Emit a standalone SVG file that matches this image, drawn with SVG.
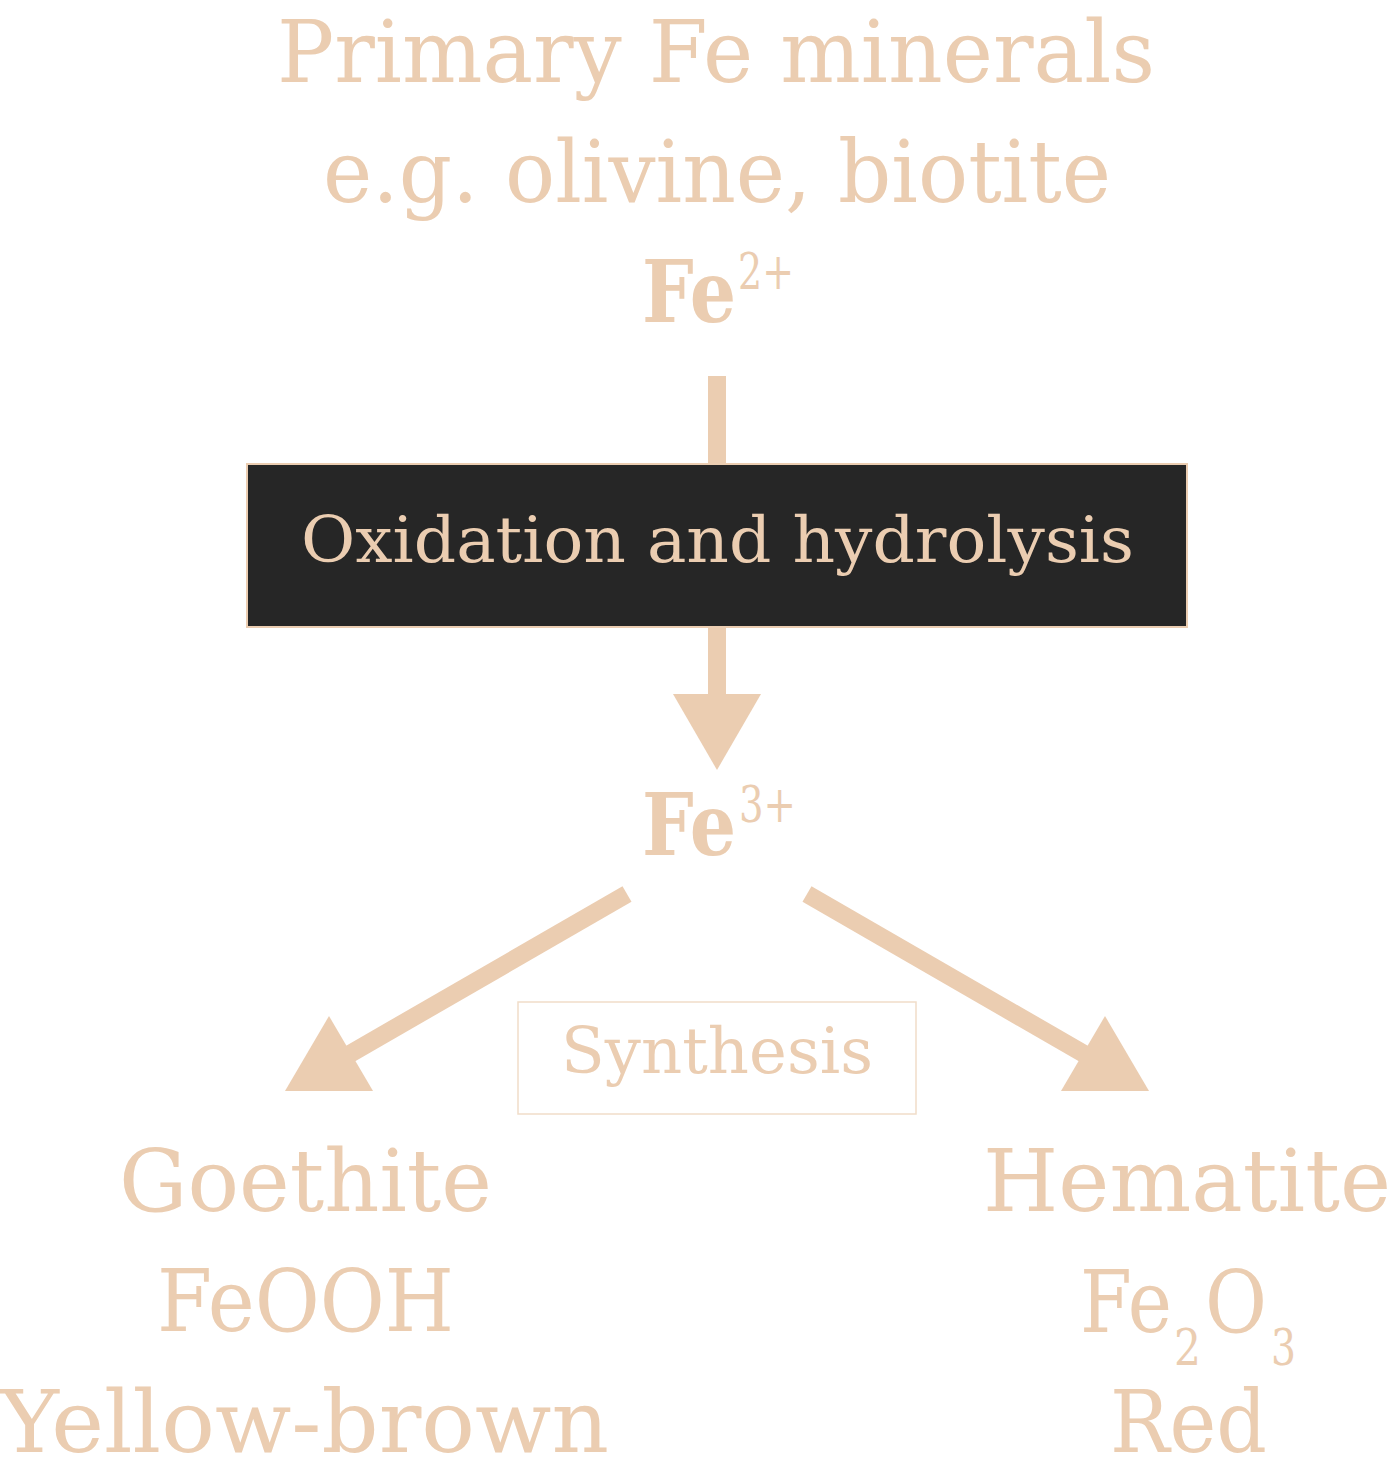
<svg xmlns="http://www.w3.org/2000/svg" width="1395" height="1476" viewBox="0 0 1395 1476">
<style>
.t{font-family:"DejaVu Serif","Liberation Serif",serif;fill:#EBCDB1;font-size:86px}
.b{font-weight:bold}
.s{font-size:50px;font-weight:normal}
.m{font-size:64px}
.ln{stroke:#EBCDB1;stroke-width:18;fill:none}
.hd{fill:#EBCDB1}
</style>
<rect width="1395" height="1476" fill="#FFFFFF"/>
<g id="connectors">
<line class="ln" x1="717" y1="376" x2="717" y2="466"/>
<line class="ln" x1="717" y1="625" x2="717" y2="700"/>
<polygon class="hd" points="673,694 761,694 717,770"/>
<line class="ln" x1="627" y1="894" x2="329" y2="1066"/>
<polygon class="hd" points="329,1016 373,1091 285,1091"/>
<line class="ln" x1="807" y1="894" x2="1105" y2="1066"/>
<polygon class="hd" points="1105,1016 1149,1091 1061,1091"/>
</g>
<g id="primary">
<text class="t" x="277" y="82" textLength="878" lengthAdjust="spacingAndGlyphs">Primary Fe minerals</text>
<text class="t" x="323" y="202" textLength="788" lengthAdjust="spacingAndGlyphs">e.g. olivine, biotite</text>
<text class="t b"><tspan x="642" y="322" textLength="94" lengthAdjust="spacingAndGlyphs">Fe</tspan><tspan class="s" x="738" y="289" textLength="56" lengthAdjust="spacingAndGlyphs">2+</tspan></text>
</g>
<g id="oxidation">
<rect x="247" y="464" width="940" height="163" fill="#262626" stroke="#EBCDB1" stroke-width="2"/>
<text class="t m" x="301" y="562" textLength="833" lengthAdjust="spacingAndGlyphs">Oxidation and hydrolysis</text>
</g>
<g id="fe3">
<text class="t b"><tspan x="642" y="855" textLength="94" lengthAdjust="spacingAndGlyphs">Fe</tspan><tspan class="s" x="739" y="822" textLength="57" lengthAdjust="spacingAndGlyphs">3+</tspan></text>
</g>
<g id="synthesis">
<rect x="518" y="1002" width="398" height="112" fill="none" stroke="#F1DDC9" stroke-width="1.5"/>
<text class="t m" x="561" y="1073" textLength="312" lengthAdjust="spacingAndGlyphs">Synthesis</text>
</g>
<g id="goethite">
<text class="t" x="119" y="1211" textLength="373" lengthAdjust="spacingAndGlyphs">Goethite</text>
<text class="t" x="157" y="1331" textLength="297" lengthAdjust="spacingAndGlyphs">FeOOH</text>
<text class="t" x="0" y="1452" textLength="609" lengthAdjust="spacingAndGlyphs">Yellow-brown</text>
</g>
<g id="hematite">
<text class="t" x="983" y="1211" textLength="408" lengthAdjust="spacingAndGlyphs">Hematite</text>
<text class="t"><tspan x="1080" y="1332" textLength="92" lengthAdjust="spacingAndGlyphs">Fe</tspan><tspan class="s" x="1174" y="1365" textLength="27" lengthAdjust="spacingAndGlyphs">2</tspan><tspan x="1205" y="1332" textLength="62" lengthAdjust="spacingAndGlyphs">O</tspan><tspan class="s" x="1271" y="1365" textLength="25" lengthAdjust="spacingAndGlyphs">3</tspan></text>
<text class="t" x="1110" y="1452" textLength="157" lengthAdjust="spacingAndGlyphs">Red</text>
</g>
</svg>
